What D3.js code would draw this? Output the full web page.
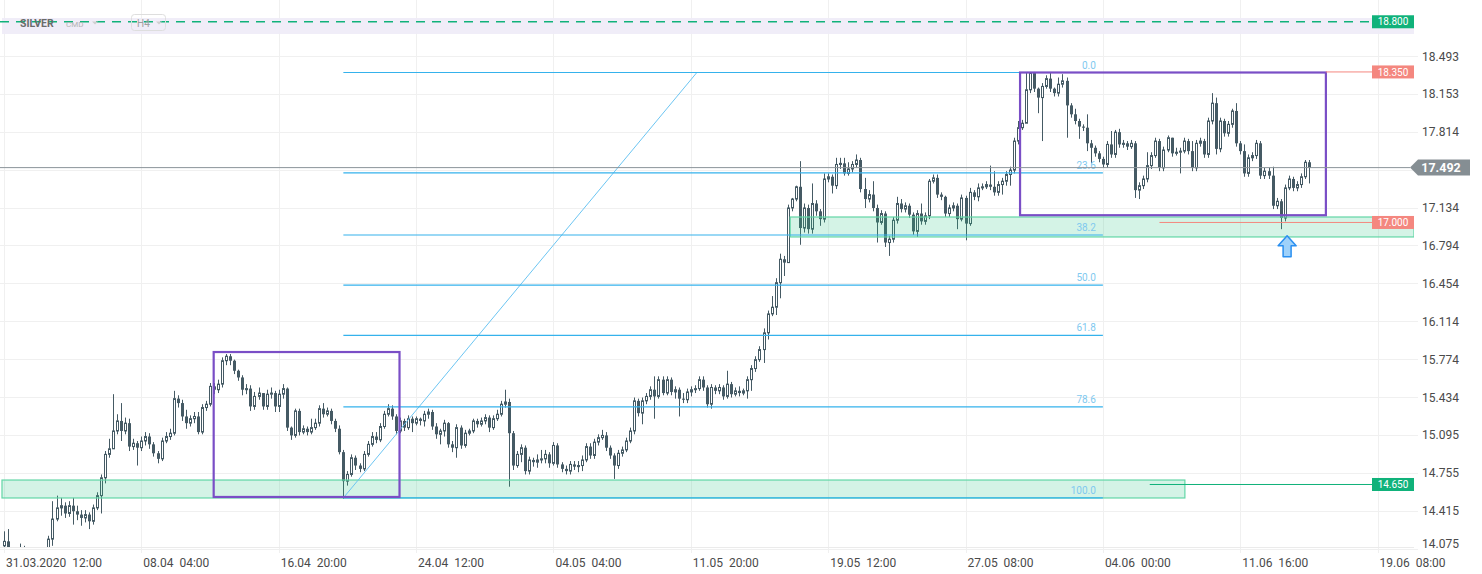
<!DOCTYPE html>
<html>
<head>
<meta charset="utf-8">
<script src="https://cdn.jsdelivr.net/npm/d3@7"></script>
<style>
  html, body { margin: 0; padding: 0; background: #fff; }
  svg { display: block; font-family: Roboto, "Open Sans", sans-serif; }
</style>
</head>
<body>
<svg id="chart" width="1482" height="574"></svg>
<script>
// SILVER H4 candles, 31.03.2020 12:00 onwards (open = previous close)
var firstOpen = 14.10;
var closes = [
  14.14, 14.05, 13.98, 14.02, 14.08, 14.03, 13.95, 13.90, 13.97, 14.01,
  14.04, 14.16, 14.34, 14.44, 14.46, 14.39, 14.46, 14.41, 14.38, 14.35,
  14.38, 14.32, 14.44, 14.55, 14.71, 14.92, 14.97, 15.13, 15.22, 15.13,
  15.20, 14.99, 15.02, 14.98, 15.04, 15.08, 15.01, 14.93, 14.88, 15.04,
  15.08, 15.11, 15.42, 15.38, 15.26, 15.20, 15.24, 15.26, 15.12, 15.34,
  15.37, 15.53, 15.50, 15.55, 15.76, 15.80, 15.76, 15.67, 15.61, 15.50,
  15.51, 15.35, 15.44, 15.47, 15.35, 15.46, 15.47, 15.35, 15.46, 15.51,
  15.16, 15.09, 15.31, 15.12, 15.15, 15.12, 15.16, 15.20, 15.33, 15.28,
  15.31, 15.22, 15.15, 14.94, 14.68, 14.74, 14.89, 14.82, 14.79, 14.92,
  15.01, 15.08, 15.05, 15.17, 15.28, 15.33, 15.26, 15.13, 15.22, 15.16,
  15.24, 15.20, 15.24, 15.22, 15.28, 15.30, 15.17, 15.10, 15.13, 15.20,
  15.01, 14.98, 15.16, 15.00, 15.11, 15.13, 15.22, 15.19, 15.22, 15.25,
  15.16, 15.24, 15.28, 15.37, 15.39, 15.11, 14.82, 14.92, 14.98, 14.77,
  14.87, 14.85, 14.87, 14.88, 14.92, 14.84, 15.00, 14.83, 14.79, 14.77,
  14.83, 14.81, 14.82, 14.87, 14.99, 14.91, 15.03, 15.07, 15.09, 14.98,
  14.91, 14.82, 14.93, 14.96, 15.04, 15.13, 15.40, 15.29, 15.40, 15.44,
  15.50, 15.44, 15.59, 15.47, 15.59, 15.48, 15.50, 15.42, 15.41, 15.48,
  15.50, 15.51, 15.59, 15.52, 15.37, 15.52, 15.49, 15.52, 15.44, 15.55,
  15.46, 15.49, 15.47, 15.49, 15.59, 15.69, 15.77, 15.86, 16.01, 16.18,
  16.24, 16.46, 16.67, 16.64, 17.13, 17.21, 17.32, 16.95, 17.13, 16.94,
  17.17, 17.10, 17.03, 17.39, 17.41, 17.33, 17.52, 17.53, 17.44, 17.48,
  17.52, 17.56, 17.30, 17.21, 17.25, 17.13, 17.00, 17.08, 16.82, 16.85,
  17.02, 17.17, 17.12, 17.15, 17.07, 16.92, 17.08, 17.01, 17.06, 17.37,
  17.40, 17.25, 17.23, 17.08, 17.13, 17.15, 17.03, 17.22, 16.99, 17.27,
  17.23, 17.31, 17.32, 17.34, 17.32, 17.27, 17.34, 17.37, 17.43, 17.47,
  17.73, 17.85, 17.89, 18.19, 18.34, 18.20, 18.12, 18.22, 18.29, 18.20,
  18.16, 18.24, 18.27, 18.05, 17.97, 17.91, 17.86, 17.85, 17.71, 17.67,
  17.62, 17.57, 17.52, 17.70, 17.61, 17.81, 17.70, 17.71, 17.68, 17.71,
  17.29, 17.33, 17.39, 17.51, 17.60, 17.73, 17.49, 17.65, 17.76, 17.62,
  17.63, 17.64, 17.73, 17.64, 17.49, 17.71, 17.73, 17.61, 17.91, 18.07,
  17.66, 17.91, 17.80, 17.88, 18.00, 17.71, 17.64, 17.44, 17.58, 17.60,
  17.71, 17.42, 17.46, 17.42, 17.15, 17.19, 17.04, 17.31, 17.39, 17.31,
  17.34, 17.41, 17.54, 17.49
];
var highs = [
  14.23, 14.25, 14.06, 14.06, 14.12, 14.10, 14.05, 13.99, 14.01, 14.04,
  14.08, 14.19, 14.50, 14.55, 14.53, 14.49, 14.50, 14.53, 14.46, 14.42,
  14.42, 14.40, 14.47, 14.58, 14.74, 14.95, 15.06, 15.46, 15.28, 15.38,
  15.25, 15.24, 15.06, 15.04, 15.08, 15.12, 15.11, 15.03, 14.95, 15.07,
  15.12, 15.15, 15.49, 15.45, 15.41, 15.32, 15.27, 15.30, 15.30, 15.37,
  15.40, 15.56, 15.56, 15.59, 15.79, 15.82, 15.82, 15.77, 15.68, 15.63,
  15.55, 15.54, 15.48, 15.52, 15.47, 15.50, 15.52, 15.49, 15.50, 15.55,
  15.52, 15.17, 15.33, 15.33, 15.18, 15.17, 15.24, 15.24, 15.36, 15.38,
  15.34, 15.33, 15.24, 15.18, 14.96, 14.77, 14.92, 14.91, 14.84, 14.95,
  15.04, 15.12, 15.12, 15.20, 15.31, 15.37, 15.36, 15.28, 15.25, 15.24,
  15.27, 15.26, 15.26, 15.25, 15.31, 15.33, 15.32, 15.20, 15.15, 15.23,
  15.21, 15.04, 15.19, 15.18, 15.14, 15.15, 15.24, 15.24, 15.25, 15.28,
  15.27, 15.27, 15.32, 15.40, 15.50, 15.42, 15.13, 14.95, 15.01, 15.00,
  14.90, 14.89, 14.92, 14.96, 14.96, 14.94, 15.03, 15.02, 14.85, 14.82,
  14.86, 14.86, 14.86, 14.91, 15.02, 15.02, 15.06, 15.10, 15.14, 15.12,
  15.00, 14.93, 14.96, 14.99, 15.07, 15.16, 15.43, 15.42, 15.43, 15.47,
  15.53, 15.62, 15.62, 15.62, 15.62, 15.61, 15.53, 15.52, 15.47, 15.51,
  15.53, 15.54, 15.62, 15.62, 15.54, 15.55, 15.54, 15.55, 15.54, 15.67,
  15.57, 15.52, 15.53, 15.51, 15.62, 15.72, 15.80, 15.89, 16.05, 16.21,
  16.34, 16.50, 16.72, 16.70, 17.16, 17.22, 17.33, 17.55, 17.17, 17.16,
  17.35, 17.20, 17.12, 17.44, 17.44, 17.43, 17.58, 17.58, 17.58, 17.54,
  17.55, 17.61, 17.58, 17.40, 17.29, 17.37, 17.16, 17.11, 17.10, 16.88,
  17.05, 17.23, 17.21, 17.18, 17.17, 17.09, 17.11, 17.17, 17.09, 17.39,
  17.43, 17.43, 17.27, 17.24, 17.16, 17.18, 17.17, 17.25, 17.24, 17.31,
  17.29, 17.35, 17.35, 17.37, 17.51, 17.46, 17.37, 17.40, 17.46, 17.50,
  17.76, 17.91, 17.92, 18.34, 18.35, 18.35, 18.21, 18.25, 18.32, 18.34,
  18.21, 18.30, 18.33, 18.30, 18.07, 18.02, 17.93, 17.88, 17.97, 17.74,
  17.69, 17.64, 17.59, 17.73, 17.82, 17.83, 17.84, 17.74, 17.73, 17.74,
  17.73, 17.36, 17.42, 17.63, 17.63, 17.76, 17.75, 17.68, 17.78, 17.76,
  17.67, 17.67, 17.76, 17.75, 17.73, 17.74, 17.76, 17.75, 17.94, 18.16,
  18.12, 17.94, 17.93, 17.91, 18.02, 18.07, 17.73, 17.70, 17.61, 17.63,
  17.74, 17.73, 17.49, 17.49, 17.50, 17.22, 17.21, 17.34, 17.42, 17.41,
  17.37, 17.44, 17.56, 17.56
];
var lows = [
  14.00, 13.98, 13.92, 13.93, 13.98, 13.97, 13.90, 13.85, 13.88, 13.94,
  13.98, 13.98, 14.10, 14.32, 14.37, 14.35, 14.36, 14.29, 14.33, 14.28,
  14.31, 14.25, 14.29, 14.42, 14.39, 14.66, 14.89, 15.00, 15.10, 15.04,
  15.10, 14.95, 14.96, 14.82, 14.95, 15.00, 14.97, 14.90, 14.84, 14.86,
  15.02, 15.05, 15.09, 15.34, 15.22, 15.15, 15.17, 15.20, 15.10, 15.10,
  15.31, 15.35, 15.46, 15.47, 15.52, 15.72, 15.72, 15.64, 15.58, 15.45,
  15.46, 15.31, 15.32, 15.41, 15.32, 15.32, 15.42, 15.30, 15.30, 15.42,
  15.13, 15.05, 15.07, 15.09, 15.10, 15.09, 15.10, 15.14, 15.17, 15.25,
  15.26, 15.19, 15.12, 14.92, 14.52, 14.64, 14.72, 14.78, 14.76, 14.77,
  14.90, 14.99, 15.02, 15.03, 15.15, 15.26, 15.23, 15.10, 15.11, 15.13,
  15.14, 15.12, 15.18, 15.18, 15.17, 15.24, 15.14, 15.06, 15.01, 15.08,
  14.98, 14.94, 14.89, 14.97, 14.98, 15.09, 15.11, 15.16, 15.17, 15.19,
  15.12, 15.14, 15.22, 15.26, 15.34, 14.63, 14.78, 14.80, 14.85, 14.74,
  14.74, 14.81, 14.80, 14.84, 14.84, 14.80, 14.82, 14.80, 14.76, 14.74,
  14.74, 14.78, 14.76, 14.77, 14.85, 14.88, 14.88, 15.00, 15.05, 14.95,
  14.88, 14.70, 14.79, 14.90, 14.94, 15.02, 15.10, 15.26, 15.19, 15.37,
  15.41, 15.24, 15.42, 15.45, 15.45, 15.45, 15.42, 15.26, 15.38, 15.38,
  15.44, 15.47, 15.49, 15.49, 15.34, 15.33, 15.46, 15.46, 15.41, 15.42,
  15.43, 15.44, 15.44, 15.45, 15.42, 15.49, 15.66, 15.75, 15.74, 15.95,
  16.16, 16.17, 16.32, 16.52, 16.64, 17.10, 17.19, 16.80, 16.91, 16.90,
  16.90, 17.06, 16.97, 17.00, 17.36, 17.26, 17.30, 17.48, 17.42, 17.42,
  17.45, 17.49, 17.27, 17.13, 17.18, 17.10, 16.82, 16.98, 16.78, 16.70,
  16.82, 16.99, 17.09, 17.09, 17.04, 16.89, 16.87, 16.98, 16.98, 17.03,
  17.35, 17.22, 17.20, 17.05, 17.05, 17.10, 16.94, 17.01, 16.84, 16.97,
  17.20, 17.19, 17.29, 17.30, 17.29, 17.24, 17.24, 17.25, 17.33, 17.33,
  17.44, 17.70, 17.83, 17.95, 18.16, 18.17, 17.98, 17.73, 18.20, 18.17,
  18.13, 18.13, 18.21, 17.76, 17.94, 17.88, 17.75, 17.82, 17.64, 17.53,
  17.59, 17.54, 17.49, 17.49, 17.58, 17.58, 17.67, 17.67, 17.65, 17.66,
  17.22, 17.21, 17.30, 17.36, 17.48, 17.58, 17.46, 17.46, 17.63, 17.59,
  17.60, 17.44, 17.62, 17.61, 17.46, 17.46, 17.68, 17.58, 17.58, 17.88,
  17.61, 17.63, 17.77, 17.77, 17.85, 17.68, 17.61, 17.41, 17.41, 17.55,
  17.57, 17.39, 17.39, 17.39, 17.12, 17.12, 16.94, 17.01, 17.29, 17.28,
  17.28, 17.31, 17.39, 17.35
];

var timeTickBars = [0, 34, 68, 102, 136, 170, 204, 238, 272, 306, 340];
var timeLabels = ["31.03.2020  12:00", "08.04  04:00", "16.04  20:00", "24.04  12:00",
  "04.05  04:00", "11.05  20:00", "19.05  12:00", "27.05  08:00", "04.06  00:00",
  "11.06  16:00", "19.06  08:00"];
var priceTicks = [18.493, 18.153, 17.814, 17.474, 17.134, 16.794, 16.454,
  16.114, 15.774, 15.434, 15.095, 14.755, 14.415, 14.075];

var lastPrice = 17.492;
var fibLevels = [0, 23.6, 38.2, 50, 61.8, 78.6, 100];
var fibHigh = 18.345, fibLow = 14.53;
var fibStartBar = 84, fibEndBar = 171.5, fibRightBar = 272;

var levelPrices = [18.80, 18.35, 17.00, 14.65];
var levelColors = ["#10b27a", "#f4877f", "#f4877f", "#10b27a"];
var levelFromBars = [null, 327.2, 286, 283.6];

var zones = [
  {from: -0.5, to: 292.3, top: 14.69, bottom: 14.529},
  {from: 194.6, to: null, top: 17.049, bottom: 16.87}
];
var boxes = [
  {from: 51.9, to: 97.9, top: 15.838, bottom: 14.538},
  {from: 251.5, to: 327.2, top: 18.345, bottom: 17.065}
];
var arrowBar = 317.6, arrowPrice = 16.88;

var width = 1482, height = 574;
var plotRight = 1414, plotBottom = 547;
var svg = d3.select("#chart");

var x = d3.scaleLinear().domain([0, 340]).range([4, 4 + 4.04 * 340]);
var y = d3.scaleLinear().domain([14.075, 18.493]).range([548.6, 56]);

var candles = closes.map(function(c, i) {
  return {i: i, o: i ? closes[i - 1] : firstOpen, h: highs[i], l: lows[i], c: c};
});

// grid
var grid = svg.append("g");
grid.selectAll("line.h").data(priceTicks).enter().append("line")
  .attr("x1", 0).attr("x2", 1418)
  .attr("y1", d => Math.round(y(d)) + 0.5).attr("y2", d => Math.round(y(d)) + 0.5)
  .attr("stroke", "#f0f0f0");
grid.selectAll("line.v").data(timeTickBars).enter().append("line")
  .attr("x1", d => Math.round(x(d)) + 0.5).attr("x2", d => Math.round(x(d)) + 0.5)
  .attr("y1", 0).attr("y2", 553)
  .attr("stroke", "#f0f0f0");
svg.append("line")
  .attr("x1", 0).attr("x2", plotRight).attr("y1", plotBottom + 0.5).attr("y2", plotBottom + 0.5)
  .attr("stroke", "#ebebeb");

// header band
svg.append("rect").attr("x", 2).attr("y", 18).attr("width", plotRight - 2).attr("height", 16)
  .attr("fill", "#eeebf7").attr("opacity", 0.9);

svg.append("defs").append("clipPath").attr("id", "plot")
  .append("rect").attr("x", 0).attr("y", 0).attr("width", plotRight).attr("height", plotBottom);

var plot = svg.append("g").attr("clip-path", "url(#plot)");

// candles
var candleColor = "#455a64";
var cg = plot.append("g");
cg.selectAll("line").data(candles).enter().append("line")
  .attr("x1", d => Math.round(x(d.i)) + 0.5).attr("x2", d => Math.round(x(d.i)) + 0.5)
  .attr("y1", d => y(d.h)).attr("y2", d => y(d.l))
  .attr("stroke", candleColor);
cg.selectAll("rect").data(candles).enter().append("rect")
  .attr("x", d => d.c >= d.o ? Math.round(x(d.i)) - 0.5 : Math.round(x(d.i)) - 1)
  .attr("width", d => d.c >= d.o ? 2 : 3)
  .attr("y", d => y(Math.max(d.o, d.c)))
  .attr("height", d => Math.max(1, y(Math.min(d.o, d.c)) - y(Math.max(d.o, d.c))))
  .attr("fill", d => d.c >= d.o ? "#fff" : candleColor)
  .attr("stroke", d => d.c >= d.o ? candleColor : "none");

// zones
plot.selectAll("rect.zone").data(zones).enter().append("rect")
  .attr("x", d => x(d.from))
  .attr("width", d => (d.to === null ? plotRight : x(d.to)) - x(d.from))
  .attr("y", d => y(d.top))
  .attr("height", d => y(d.bottom) - y(d.top))
  .attr("fill", "rgba(38,194,129,0.2)")
  .attr("stroke", "#62d6a6").attr("stroke-width", 1.2);

// fibonacci
var fib = plot.append("g");
var fibPrice = function(l) { return fibHigh - (fibHigh - fibLow) * l / 100; };
fib.append("line")
  .attr("x1", x(fibStartBar)).attr("y1", y(fibLow))
  .attr("x2", x(fibEndBar)).attr("y2", y(fibHigh))
  .attr("stroke", "#6cc5f2").attr("stroke-width", 1);
fib.selectAll("line.lvl").data(fibLevels).enter().append("line")
  .attr("x1", x(fibStartBar)).attr("x2", x(fibRightBar))
  .attr("y1", d => y(fibPrice(d))).attr("y2", d => y(fibPrice(d)))
  .attr("stroke", "#35b2ec").attr("stroke-width", 1.2);
fib.selectAll("text").data(fibLevels).enter().append("text")
  .attr("x", x(fibRightBar) - 7)
  .attr("y", d => y(fibPrice(d)) - 4)
  .attr("text-anchor", "end")
  .attr("font-size", 10)
  .attr("fill", "#7fc9ef")
  .text(d => d3.format(".1f")(d));

// boxes
plot.selectAll("rect.box").data(boxes).enter().append("rect")
  .attr("x", d => x(d.from)).attr("width", d => x(d.to) - x(d.from))
  .attr("y", d => y(d.top)).attr("height", d => y(d.bottom) - y(d.top))
  .attr("fill", "none").attr("stroke", "#7a4ec6").attr("stroke-width", 2.2);

// price levels with tags
var tagX = plotRight - 42;
levelPrices.forEach(function(p, k) {
  var ly = y(p);
  svg.append("line")
    .attr("x1", levelFromBars[k] === null ? 0 : x(levelFromBars[k])).attr("x2", tagX)
    .attr("y1", ly).attr("y2", ly)
    .attr("stroke", levelColors[k]).attr("stroke-width", k === 0 ? 1.4 : 1)
    .attr("stroke-dasharray", k === 0 ? "9,7" : null);
  svg.append("rect").attr("x", tagX).attr("y", ly - 6.5).attr("width", 42).attr("height", 13)
    .attr("fill", levelColors[k]);
  svg.append("text").attr("x", tagX + 21).attr("y", ly + 3.6)
    .attr("text-anchor", "middle").attr("font-size", 10).attr("fill", "#fff")
    .text(d3.format(".3f")(p));
});

// header text
var hdr = svg.append("g");
hdr.append("text").attr("x", 20).attr("y", 27).attr("font-size", 10.5).attr("font-weight", "bold")
  .attr("fill", "#6a6a6a").text("SILVER");
hdr.append("text").attr("x", 66).attr("y", 27).attr("font-size", 8).attr("fill", "#b4b4b4").text("CMD");
hdr.append("path").attr("d", "M92,21.5L98,21.5L95,24.5Z").attr("fill", "#cfcfcf");
hdr.append("rect").attr("x", 131.5).attr("y", 14.5).attr("width", 34).attr("height", 16).attr("rx", 3)
  .attr("fill", "none").attr("stroke", "#dedede");
hdr.append("text").attr("x", 137).attr("y", 26.5).attr("font-size", 10).attr("fill", "#a0a0a0").text("H4");
hdr.append("path").attr("d", "M156,21.5L162,21.5L159,24.5Z").attr("fill", "#cfcfcf");

// current price
var cy = y(lastPrice);
svg.append("line").attr("x1", 0).attr("x2", 1410).attr("y1", cy).attr("y2", cy)
  .attr("stroke", "#8b9499").attr("stroke-width", 1);
svg.append("path")
  .attr("d", "M1410," + cy + "L1418," + (cy - 8) + "L1470," + (cy - 8) + "L1470," + (cy + 8) + "L1418," + (cy + 8) + "Z")
  .attr("fill", "#858e93");
svg.append("text").attr("x", 1441).attr("y", cy + 4.5).attr("text-anchor", "middle")
  .attr("font-size", 12.5).attr("font-weight", "bold").attr("fill", "#fff")
  .text(d3.format(".3f")(lastPrice));

// right axis labels
svg.append("g").selectAll("text")
  .data(priceTicks.filter(d => Math.abs(y(d) - cy) > 10))
  .enter().append("text")
  .attr("x", 1422)
  .attr("y", d => Math.min(y(d), 543) + 4.5)
  .attr("font-size", 12).attr("fill", "#4a4a4a")
  .text(d => d3.format(".3f")(d));

// time labels
svg.append("g").selectAll("text").data(timeTickBars).enter().append("text")
  .attr("x", d => x(d) + 2)
  .attr("y", 567)
  .attr("font-size", 12).attr("fill", "#4a4a4a")
  .style("white-space", "pre")
  .text((d, k) => timeLabels[k]);

// blue arrow marker
var ax = x(arrowBar), ay = y(arrowPrice);
svg.append("path")
  .attr("transform", "translate(" + ax + "," + ay + ")")
  .attr("d", "M0,0L9,10L4,10L4,21L-4,21L-4,10L-9,10Z")
  .attr("fill", "#9ed1fa").attr("stroke", "#2a8ff0").attr("stroke-width", 1.5)
  .attr("stroke-linejoin", "round");
</script>
</body>
</html>
